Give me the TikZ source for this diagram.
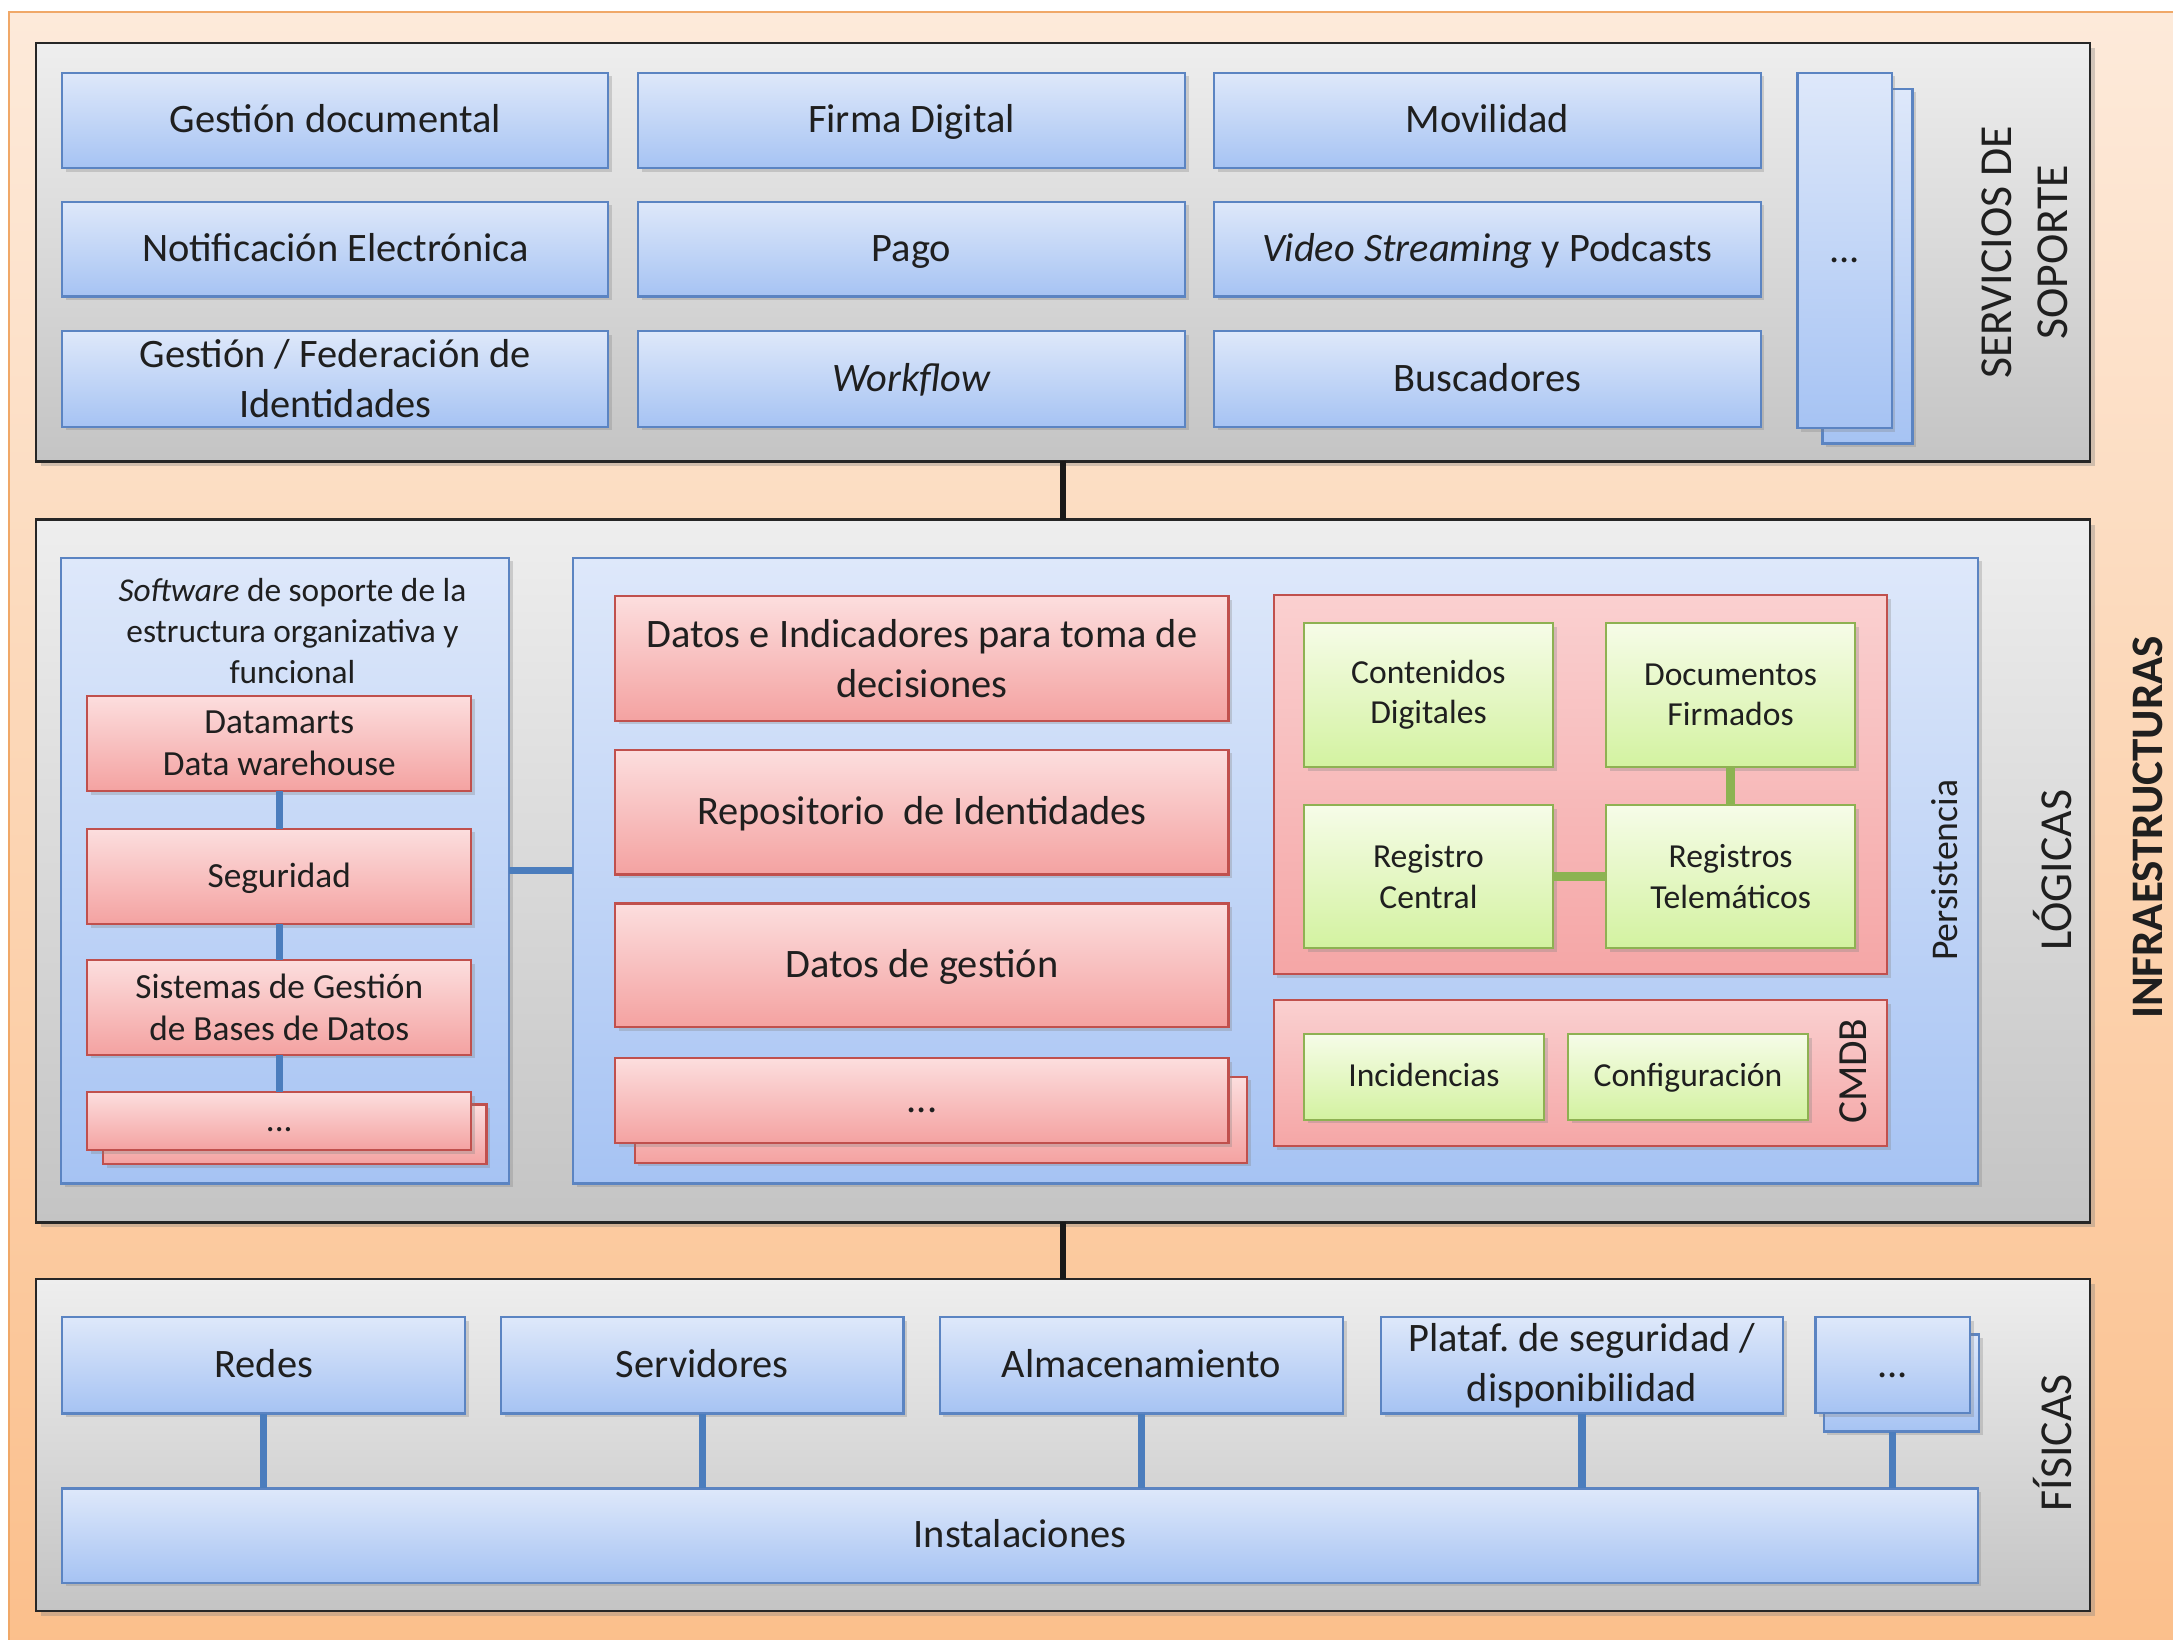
\documentclass[tikz,border=0pt]{standalone}
\usepackage{fontspec}
\setmainfont{Carlito}
\usetikzlibrary{shadows}
\frenchspacing
\definecolor{bluetop}{HTML}{DEE8FA}
\definecolor{bluebot}{HTML}{A6C3F3}
\definecolor{blueline}{HTML}{5B84C2}
\definecolor{redtop}{HTML}{FCDEDE}
\definecolor{redbot}{HTML}{F4A2A1}
\definecolor{redctop}{HTML}{FAD0D0}
\definecolor{redcbot}{HTML}{F5A6A6}
\definecolor{redline}{HTML}{C0504D}
\definecolor{greentop}{HTML}{F6FCE8}
\definecolor{greenbot}{HTML}{D3F2A0}
\definecolor{greenline}{HTML}{8EB152}
\definecolor{graytop}{HTML}{EEEEEE}
\definecolor{graybot}{HTML}{C4C4C4}
\definecolor{orangetop}{HTML}{FDEADA}
\definecolor{orangebot}{HTML}{FBBF8B}
\definecolor{orangeline}{HTML}{F0A868}
\definecolor{linkblue}{HTML}{4B7DBD}
\definecolor{linkgreen}{HTML}{8CB352}
\newcommand\bst{\rule[-0.3em]{0pt}{1.2em}}
\newcommand\boxnode[7]{%
  \node[#6, minimum width={((#4)-(#2))*0.02cm}, minimum height={((#5)-(#3))*0.02cm}]
    (#1) at ({((#2)+(#4))/2},{((#3)+(#5))/2}) {#7};}
\tikzset{
  every node/.style={inner sep=0pt, outer sep=0pt},
  base/.style={rectangle, align=center, text=black!88},
  st/.style={execute at begin node=\bst, execute at end node=\bst},
  fbig/.style={font=\fontsize{16.6}{20.5}\selectfont},
  fmid/.style={font=\fontsize{14.5}{17.3}\selectfont},
  fsmall/.style={font=\fontsize{13.8}{16.5}\selectfont},
  flabel/.style={font=\fontsize{18.8}{23.3}\selectfont},
  shad/.style={drop shadow={shadow xshift=1.5pt, shadow yshift=-1.5pt, opacity=0.3}},
  panel/.style={base, top color=graytop, bottom color=graybot, draw=black!85, line width=1.1pt,
    drop shadow={shadow xshift=2pt, shadow yshift=-2pt, opacity=0.35}},
  bluebox/.style={base, shad, top color=bluetop, bottom color=bluebot, draw=blueline, line width=0.9pt},
  bluecont/.style={base, shad, top color=bluetop, bottom color=bluebot, draw=blueline, line width=0.9pt},
  redbox/.style={base, shad, top color=redtop, bottom color=redbot, draw=redline, line width=0.9pt},
  redcont/.style={base, shad, top color=redctop, bottom color=redcbot, draw=redline, line width=0.9pt},
  greenbox/.style={base, shad, top color=greentop, bottom color=greenbot, draw=greenline, line width=0.9pt},
  vlabel/.style={rotate=90, align=center, text=black!88},
  bluelink/.style={draw=linkblue, line width=3pt},
  greenlink/.style={draw=linkgreen, line width=3.6pt},
  blacklink/.style={draw=black!90, line width=2.8pt},
  bgbox/.style={rectangle, top color=orangetop, bottom color=orangebot, draw=orangeline, line width=0.8pt},
}
\begin{document}
\begin{tikzpicture}[x=0.02cm, y=-0.02cm]
\useasboundingbox (0,0) rectangle (1568,1183);
\fill[white] (0,0) rectangle (1568,1183);
\boxnode{bg}{6.4}{8.7}{1580}{1195}{bgbox}{}

% ---------- Servicios de soporte ----------
\boxnode{sop}{26}{31}{1508}{333}{panel}{}
\boxnode{gdoc}{45}{52.5}{439}{121.5}{bluebox,fbig,st}{Gestión documental}
\boxnode{firma}{460.5}{52.5}{855}{121.5}{bluebox,fbig,st}{Firma Digital}
\boxnode{movil}{876}{52.5}{1270.5}{121.5}{bluebox,fbig,st}{Movilidad}
\boxnode{notif}{45}{145.5}{439}{214}{bluebox,fbig,st}{Notificación Electrónica}
\boxnode{pago}{460.5}{145.5}{855}{214}{bluebox,fbig,st}{Pago}
\boxnode{video}{876}{145.5}{1270.5}{214}{bluebox,fbig,st}{\textit{Video Streaming} y Podcasts}
\boxnode{ident}{45}{239}{439}{308}{bluebox,fbig}{Gestión / Federación de\\Identidades}
\boxnode{workf}{460.5}{239}{855}{308}{bluebox,fbig,st}{\textit{Workflow}}
\boxnode{busc}{876}{239}{1270.5}{308}{bluebox,fbig,st}{Buscadores}
\boxnode{sdotsb}{1315}{64}{1380}{320}{bluebox}{}
\boxnode{sdots}{1297}{52.5}{1365}{309}{bluebox,fbig,st}{...}
\node[vlabel, flabel] (soplbl) at (1461,182) {SERVICIOS DE\\SOPORTE};

% ---------- Lógicas ----------
\boxnode{log}{26}{375}{1508}{882}{panel}{}
\boxnode{swc}{44}{402.5}{367.5}{854}{bluecont}{}
\node[align=center, text=black!88, font=\fontsize{13.7}{16.8}\selectfont] (swt) at (211,455.5)
  {\textit{Software} de soporte de la\\estructura organizativa y\\funcional};
\boxnode{dmart}{63}{502}{340}{571}{redbox,fmid}{Datamarts\\Data warehouse}
\boxnode{segur}{63}{598}{340}{667}{redbox,fmid,st}{Seguridad}
\boxnode{sgbd}{63}{693}{340}{761}{redbox,fmid}{Sistemas de Gestión\\de Bases de Datos}
\boxnode{ldotsb}{74.5}{797}{351}{840}{redbox}{}
\boxnode{ldots}{63}{788}{340}{830}{redbox,fmid,st}{...}

\boxnode{mainc}{413.5}{402.5}{1427.5}{854}{bluecont}{}
\boxnode{dind}{444}{430}{886.5}{520}{redbox,fbig}{Datos e Indicadores para toma de\\decisiones}
\boxnode{repo}{444}{541}{886.5}{631}{redbox,fbig,st}{Repositorio\ \ de Identidades}
\boxnode{dges}{444}{652}{886.5}{741}{redbox,fbig,st}{Datos de gestión}
\boxnode{mdotsb}{458}{777}{900}{839}{redbox}{}
\boxnode{mdots}{444}{763.5}{886.5}{825}{redbox,fbig,st}{...}

\boxnode{pers}{919}{429.5}{1361.5}{703}{redcont}{}
\boxnode{cont}{941}{449.5}{1120.5}{553.5}{greenbox,fsmall}{Contenidos\\Digitales}
\boxnode{docs}{1159}{449.5}{1338.5}{553.5}{greenbox,fsmall}{Documentos\\Firmados}
\boxnode{regc}{941}{581}{1120.5}{684}{greenbox,fsmall}{Registro\\Central}
\boxnode{regt}{1159}{581}{1338.5}{684}{greenbox,fsmall}{Registros\\Telemáticos}
\node[vlabel, font=\fontsize{15.5}{18}\selectfont] (perslbl) at (1403,628) {Persistencia};

\boxnode{cmdb}{919}{721.5}{1361.5}{827}{redcont}{}
\boxnode{inc}{941}{746}{1114}{808}{greenbox,fsmall,st}{Incidencias}
\boxnode{conf}{1131.5}{746}{1304.5}{808}{greenbox,fsmall,st}{Configuración}
\node[vlabel, font=\fontsize{17}{20}\selectfont] (cmdblbl) at (1337,773) {CMDB};

\node[vlabel, flabel] (loglbl) at (1481,628) {LÓGICAS};

% ---------- Físicas ----------
\boxnode{fis}{26}{923}{1508}{1162.5}{panel}{}
\boxnode{redes}{45}{950.5}{335.5}{1020}{bluebox,fbig,st}{Redes}
\boxnode{serv}{361.5}{950.5}{652}{1020}{bluebox,fbig,st}{Servidores}
\boxnode{alm}{678}{950.5}{969}{1020}{bluebox,fbig,st}{Almacenamiento}
\boxnode{plat}{996.5}{950.5}{1286.5}{1020}{bluebox,fbig}{Plataf. de seguridad /\\disponibilidad}
\boxnode{fdotsb}{1316}{963}{1428}{1033}{bluebox}{}
\boxnode{fdots}{1310}{950.5}{1421.5}{1019.5}{bluebox,fbig,st}{...}
\boxnode{inst}{45}{1074}{1427}{1142}{bluebox,fbig,st}{Instalaciones}
\node[vlabel, flabel] (fislbl) at (1481,1041) {FÍSICAS};

\node[vlabel, font=\fontsize{18.5}{22}\selectfont\bfseries] (infra) at (1550,597) {INFRAESTRUCTURAS};

% ---------- connectors ----------
\draw[blacklink] (sop.south) -- (log.north);
\draw[blacklink] (log.south) -- (fis.north);
\draw[bluelink] (swc.east) -- (mainc.west);
\draw[bluelink] (dmart.south) -- (segur.north);
\draw[bluelink] (segur.south) -- (sgbd.north);
\draw[bluelink] (sgbd.south) -- (ldots.north);
\draw[greenlink] (docs.south) -- (regt.north);
\draw[greenlink] (regc.east) -- (regt.west);
\draw[bluelink] (redes.south) -- (redes.south |- inst.north);
\draw[bluelink] (serv.south) -- (serv.south |- inst.north);
\draw[bluelink] (alm.south) -- (alm.south |- inst.north);
\draw[bluelink] (plat.south) -- (plat.south |- inst.north);
\draw[bluelink] (fdots.south |- fdotsb.south) -- (fdots.south |- inst.north);
\end{tikzpicture}
\end{document}
